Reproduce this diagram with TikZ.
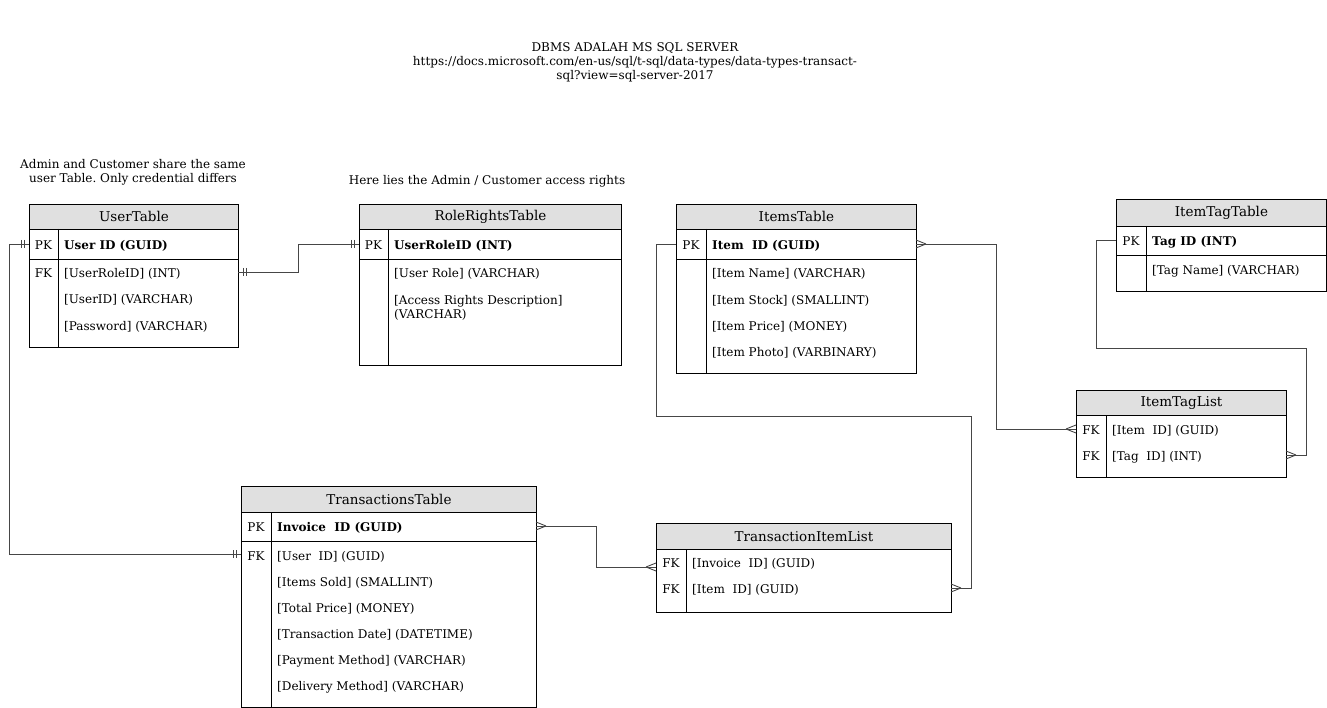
\documentclass[tikz,border=0pt]{standalone}
\usepackage{fontspec}
\setmainfont{DejaVu Serif}
\frenchspacing
\definecolor{hdrgray}{RGB}{224,224,224}
\definecolor{conngray}{RGB}{70,70,70}
\newcommand\crowfoot[3]{% point, dx sign
  \draw[conn] (#1) ++(#2,0) -- ++(-#2,-4) (#1) ++(#2,0) -- ++(-#2,4);}
\newcommand\dbar[2]{% point, sign
  \draw[conn] (#1) ++(#2*5,-4) -- ++(0,8) (#1) ++(#2*8,-4) -- ++(0,8);}
\begin{document}
\begin{tikzpicture}[x=1pt,y=-1pt,
  tbl/.style={draw=black, line width=0.9pt},
  hdr/.style={draw=black, line width=0.9pt, fill=hdrgray, anchor=north west, inner sep=0pt, font=\fontsize{13.5}{16}\selectfont},
  fld/.style={anchor=base west, inner sep=0pt, yshift=-1.8pt, font=\fontsize{12}{14}\selectfont},
  key/.style={anchor=base, inner sep=0pt, yshift=-1.8pt, font=\fontsize{12}{14}\selectfont},
  conn/.style={draw=conngray, line width=0.9pt},
  note/.style={align=center, inner sep=0pt, font=\fontsize{12}{14}\selectfont}]
\useasboundingbox[fill=white] (0,0) rectangle (1327,708);

% notes
\node[note] (title) at (635,62.5) {DBMS ADALAH MS SQL SERVER\\https://docs.microsoft.com/en-us/sql/t-sql/data-types/data-types-transact-\\sql?view=sql-server-2017};
\node[note] (note1) at (133,172) {Admin and Customer share the same\\user Table. Only credential differs};
\node[note] (note2) at (487,181) {Here lies the Admin / Customer access rights};

% UserTable
\node[hdr, minimum width=209pt, minimum height=25pt] (UserTable) at (29,204) {UserTable};
\draw[tbl] (29,229) rectangle (238,347) (29,259) -- (238,259) (58,229) -- (58,347);
\node[key] (utk1) at (43.5,248) {PK};
\node[fld] (utf1) at (64,248) {\textbf{User ID (GUID)}};
\node[key] (utk2) at (43.5,276) {FK};
\node[fld] (utf2) at (64,276) {[UserRoleID] (INT)};
\node[fld] (utf3) at (64,302) {[UserID] (VARCHAR)};
\node[fld] (utf4) at (64,329) {[Password] (VARCHAR)};

% RoleRightsTable
\node[hdr, minimum width=262pt, minimum height=25pt] (RoleRightsTable) at (359,204) {RoleRightsTable};
\draw[tbl] (359,229) rectangle (621,365) (359,259) -- (621,259) (388,229) -- (388,365);
\node[key] (rrk1) at (373.5,248) {PK};
\node[fld] (rrf1) at (394,248) {\textbf{UserRoleID (INT)}};
\node[fld] (rrf2) at (394,276) {[User Role] (VARCHAR)};
\node[fld] (rrf3) at (394,303) {[Access Rights Description]};
\node[fld] (rrf4) at (394,317) {(VARCHAR)};

% ItemsTable
\node[hdr, minimum width=240pt, minimum height=25pt] (ItemsTable) at (676,204) {ItemsTable};
\draw[tbl] (676,229) rectangle (916,373) (676,259) -- (916,259) (706,229) -- (706,373);
\node[key] (itk1) at (691,248) {PK};
\node[fld] (itf1) at (712,248) {\textbf{Item\ \ ID (GUID)}};
\node[fld] (itf2) at (712,276) {[Item Name] (VARCHAR)};
\node[fld] (itf3) at (712,303) {[Item Stock] (SMALLINT)};
\node[fld] (itf4) at (712,329) {[Item Price] (MONEY)};
\node[fld] (itf5) at (712,355) {[Item Photo] (VARBINARY)};

% ItemTagTable
\node[hdr, minimum width=210pt, minimum height=27pt] (ItemTagTable) at (1116,199) {ItemTagTable};
\draw[tbl] (1116,226) rectangle (1326,291) (1116,255) -- (1326,255) (1146,226) -- (1146,291);
\node[key] (ttk1) at (1131,244) {PK};
\node[fld] (ttf1) at (1152,244) {\textbf{Tag ID (INT)}};
\node[fld] (ttf2) at (1152,273) {[Tag Name] (VARCHAR)};

% ItemTagList
\node[hdr, minimum width=210pt, minimum height=25pt] (ItemTagList) at (1076,390) {ItemTagList};
\draw[tbl] (1076,415) rectangle (1286,477) (1106,415) -- (1106,477);
\node[key] (tlk1) at (1091,433) {FK};
\node[fld] (tlf1) at (1112,433) {[Item\ \ ID] (GUID)};
\node[key] (tlk2) at (1091,459) {FK};
\node[fld] (tlf2) at (1112,459) {[Tag\ \ ID] (INT)};

% TransactionsTable
\node[hdr, minimum width=295pt, minimum height=26pt] (TransactionsTable) at (241,486) {TransactionsTable};
\draw[tbl] (241,512) rectangle (536,707) (241,541) -- (536,541) (271,512) -- (271,707);
\node[key] (trk1) at (256,530) {PK};
\node[fld] (trf1) at (277,530) {\textbf{Invoice\ \ ID (GUID)}};
\node[key] (trk2) at (256,559) {FK};
\node[fld] (trf2) at (277,559) {[User\ \ ID] (GUID)};
\node[fld] (trf3) at (277,585) {[Items Sold] (SMALLINT)};
\node[fld] (trf4) at (277,611) {[Total Price] (MONEY)};
\node[fld] (trf5) at (277,637) {[Transaction Date] (DATETIME)};
\node[fld] (trf6) at (277,663) {[Payment Method] (VARCHAR)};
\node[fld] (trf7) at (277,689) {[Delivery Method] (VARCHAR)};

% TransactionItemList
\node[hdr, minimum width=295pt, minimum height=26pt] (TransactionItemList) at (656,523) {TransactionItemList};
\draw[tbl] (656,549) rectangle (951,612) (686,549) -- (686,612);
\node[key] (tik1) at (671,566) {FK};
\node[fld] (tif1) at (692,566) {[Invoice\ \ ID] (GUID)};
\node[key] (tik2) at (671,592) {FK};
\node[fld] (tif2) at (692,592) {[Item\ \ ID] (GUID)};

% connector endpoints
\coordinate (utPKw) at (29,244);
\coordinate (utFKe) at (238,272);
\coordinate (rrPKw) at (359,244);
\coordinate (itPKw) at (676,244);
\coordinate (itPKe) at (916,244);
\coordinate (ttPKw) at (1116,240);
\coordinate (tlIw) at (1076,429);
\coordinate (tlTe) at (1286,455);
\coordinate (trPKe) at (536,526);
\coordinate (trFKw) at (241,554);
\coordinate (tiIw) at (656,567);
\coordinate (tiTe) at (951,588);
\coordinate (b1) at (656,416);
\coordinate (b2) at (971,416);
\coordinate (c1) at (1096,348);
\coordinate (c2) at (1306,348);

% connectors
\draw[conn] (utPKw) -- ++(-20,0) |- (trFKw);
\dbar{utPKw}{-1}
\dbar{trFKw}{-1}
\draw[conn] (utFKe) -- ++(60,0) |- (rrPKw);
\dbar{utFKe}{1}
\dbar{rrPKw}{-1}
\draw[conn] (itPKe) -- ++(80,0) |- (tlIw);
\crowfoot{itPKe}{10}{}
\crowfoot{tlIw}{-10}{}
\draw[conn] (itPKw) -- (itPKw -| b1) -- (b1) -- (b2) |- (tiTe);
\crowfoot{tiTe}{10}{}
\draw[conn] (ttPKw) -- (ttPKw -| c1) -- (c1) -- (c2) |- (tlTe);
\crowfoot{tlTe}{10}{}
\draw[conn] (trPKe) -- ++(60,0) |- (tiIw);
\crowfoot{trPKe}{10}{}
\crowfoot{tiIw}{-10}{}
\end{tikzpicture}
\end{document}
